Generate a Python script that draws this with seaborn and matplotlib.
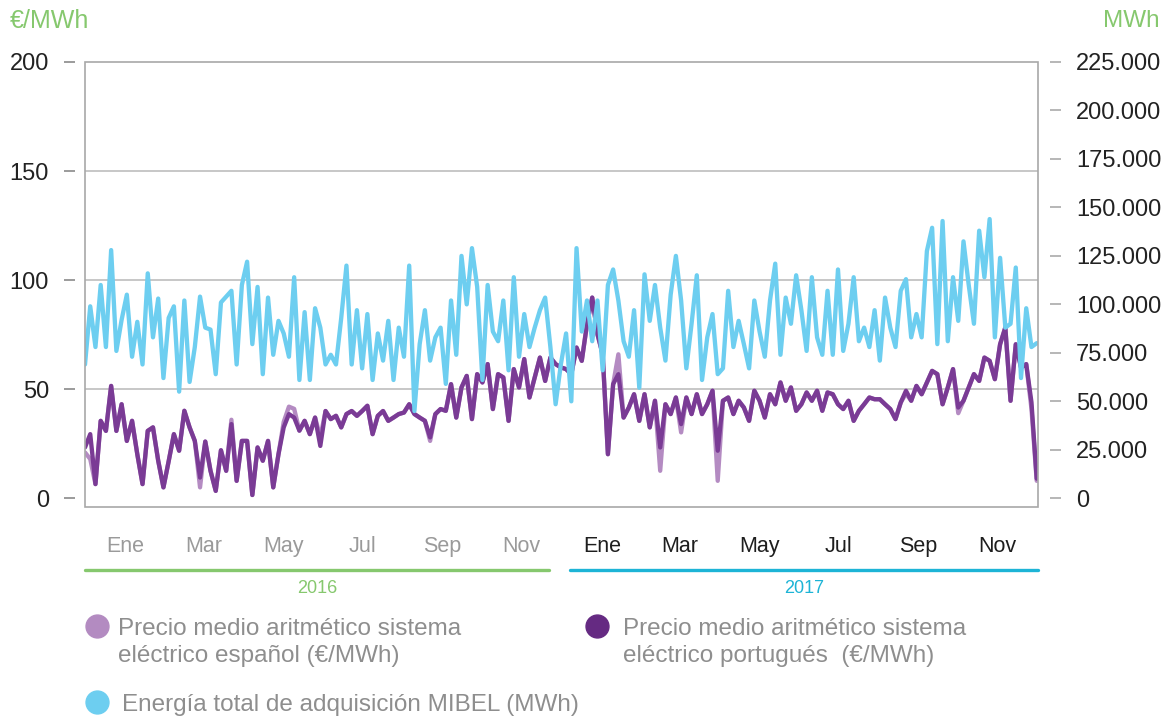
import numpy as np
import pandas as pd
import matplotlib
matplotlib.use("Agg")
import matplotlib.pyplot as plt
from matplotlib.lines import Line2D
from matplotlib.patches import Rectangle
from matplotlib.ticker import FuncFormatter
import seaborn as sns

# Precio medio diario (€/MWh), muestreado cada ~4 días, ene 2016 - dic 2017
precio_pt = [23.3, 29.4, 6.5, 35.5, 30.9, 51.5, 30.9, 43.1, 26.3, 35.5, 20.2, 6.5, 30.9, 32.5, 17.2, 5.0,
             17, 29.4, 21.8, 40.1, 32.5, 26.3, 9.5, 26, 12.6, 3.4, 22, 12.6, 34, 8, 26.3,
             26.3, 1.5, 23.3, 17.2, 26.3, 5.0, 20.2, 32.5, 38.6, 37, 31, 35.5, 29.4, 37, 24, 40,
             36.3, 37.8, 32.5, 38.6, 40, 37.8, 40, 42.4, 29.4, 37.8, 40, 35.5, 37, 38.6, 39.3,
             43.1, 38.6, 37, 35.5, 27.9, 38.6, 40.9, 40.1, 52.3, 37, 50.8, 56.1, 36.3, 56.9, 53.1,
             61.5, 40.9, 56.9, 55.4, 35.5, 59.2, 50.8, 63.8, 46.2, 55.4, 64.5, 53.8, 64.5, 61.5, 60,
             59.2, 56.9, 69.1, 63, 79.8, 92, 75.2, 66, 20.2, 52.3, 56.9, 37, 41.6, 47.7, 35.5,
             47.7, 32.5, 44.7, 23.3, 43.1, 38.6, 46.2, 34, 46.2, 38.6, 47.7, 38.6, 43.1, 49.3, 21.8,
             44.7, 46.2, 38.6, 44.7, 41.6, 35.5, 49.3, 44.7, 37, 47.7, 43.1, 53.1, 44.7, 50.8, 40.1,
             43.1, 48.5, 44.7, 49.3, 40.1, 48.5, 47.7, 43.1, 40.9, 44.7, 35.5, 40.1, 43.1, 46.2, 45.4,
             45.4, 43.1, 40.9, 36.3, 43.9, 49.3, 44.7, 51.5, 47.7, 53.1, 58.4, 56.9, 43.1, 50.8, 59.2,
             41.6, 44.7, 50.8, 56.9, 53.8, 64.5, 63, 54.6, 70.6, 78.3, 44.7, 70.6, 60, 61.5, 44, 9]

precio_es = [21, 18, 6.5, 35.5, 30.9, 51.5, 30.9, 43.1, 26.3, 35.5, 20.2, 6.5, 30.9, 32.5, 17.2, 5.0,
             17, 29.4, 21.8, 40.1, 32.5, 26.3, 5, 26, 12.6, 3.4, 22, 12.6, 36, 8, 26.3,
             26.3, 1.5, 23.3, 17.2, 26.3, 5.0, 20.2, 35, 42, 41, 31, 35.5, 29.4, 37, 28, 40,
             36.3, 37.8, 32.5, 38.6, 40, 37.8, 40, 42.4, 29.4, 37.8, 40, 35.5, 37, 38.6, 39.3,
             43.1, 38.6, 37, 35.5, 26.3, 38.6, 40.9, 40.1, 52.3, 37, 50.8, 56.1, 36.3, 56.9, 53.1,
             61.5, 40.9, 56.9, 55.4, 35.5, 59.2, 50.8, 63.8, 46.2, 55.4, 64.5, 53.8, 64.5, 61.5, 60,
             59.2, 56.9, 69.1, 63, 79.8, 92, 75.2, 66, 20.2, 52.3, 66, 37, 41.6, 47.7, 35.5,
             47.7, 32.5, 44.7, 12.6, 43.1, 38.6, 46.2, 30.2, 46.2, 38.6, 47.7, 38.6, 43.1, 49.3, 8,
             44.7, 46.2, 38.6, 44.7, 41.6, 35.5, 49.3, 44.7, 37, 47.7, 43.1, 53.1, 44.7, 50.8, 40.1,
             43.1, 48.5, 44.7, 49.3, 40.1, 48.5, 47.7, 43.1, 40.9, 44.7, 35.5, 40.1, 43.1, 46.2, 45.4,
             45.4, 43.1, 40.9, 36.3, 43.9, 48, 44.7, 51.5, 47.7, 53.1, 58.4, 56.9, 43.1, 50.8, 59.2,
             39, 44.7, 50.8, 56.9, 53.8, 64.5, 63, 54.6, 70.6, 78.3, 44.7, 70.6, 60, 61.5, 41, 8]

# Energía total de adquisición MIBEL (miles de MWh)
energia_k = [69, 99, 78, 110, 78, 128, 76, 92, 105, 73, 91, 69, 116, 83, 103, 62,
             93, 99, 55, 102, 60, 78, 104, 88, 87, 64, 101, 104, 107, 69, 110,
             122, 79.5, 109, 64, 103.5, 74, 91.5, 85, 73, 114, 61, 96, 61, 98, 88, 69,
             74, 69, 93, 120, 69, 97, 67, 95, 61, 85, 71, 91.5, 61, 88, 73,
             120, 45, 79.5, 97, 71, 83, 88, 59, 102, 74, 125, 100, 129, 109, 61,
             110, 86, 81, 102, 66, 114, 73, 95, 78, 88, 97, 103.5, 78, 48.5, 69,
             85, 50, 129, 86, 102, 81, 102, 66, 110, 118, 102, 81, 73, 97, 57,
             115.5, 91.5, 110, 88, 71, 105, 125, 102, 67, 90, 115, 61, 83, 95, 64,
             67, 107, 78, 91.5, 79.5, 67, 102, 86, 73, 102, 121, 74, 103.5, 90, 115,
             97, 76, 114, 83, 74, 107, 74, 118, 76, 90, 114, 81, 88, 78, 97,
             71, 103.5, 88, 78, 107, 113, 83, 95, 83, 127.5, 139.5, 79.5, 143, 81, 114,
             91.5, 132.5, 110, 90, 138, 114, 144, 83, 124, 88, 90, 119, 62, 98, 78, 80]

meses = ["Ene", "Mar", "May", "Jul", "Sep", "Nov"]
anios = ["2016", "2017"]
leyenda = ["Precio medio aritmético sistema\neléctrico español (€/MWh)",
           "Precio medio aritmético sistema\neléctrico portugués  (€/MWh)",
           "Energía total de adquisición MIBEL (MWh)"]

fechas = pd.date_range("2016-01-01", "2017-12-31", periods=len(precio_pt))
df = pd.DataFrame({"fecha": fechas, "es": precio_es, "pt": precio_pt,
                   "energia": np.array(energia_k) * 1000})

C_ES = "#b48bc2"
C_PT = "#7a3b95"
C_EN = "#6dcef0"
VERDE = "#86c86e"
CIAN = "#1db4d6"
GRIS = "#8e8e8e"

sns.set_style("white")
plt.rcParams["font.family"] = ["Liberation Sans", "DejaVu Sans"]

fig = plt.figure(figsize=(11.71, 7.2), dpi=100)
ax = fig.add_axes([85 / 1171, 1 - 507 / 720, 953 / 1171, 445 / 720])
ax2 = ax.twinx()

sns.lineplot(data=df, x="fecha", y="es", ax=ax, color=C_ES, linewidth=3.1)
sns.lineplot(data=df, x="fecha", y="pt", ax=ax, color=C_PT, linewidth=3.1)
sns.lineplot(data=df, x="fecha", y="energia", ax=ax2, color=C_EN, linewidth=3.1)

for a in (ax, ax2):
    for s in a.spines.values():
        s.set_visible(False)
    a.set_xlabel("")
    a.set_ylabel("")
ax.spines["left"].set_position(("outward", 7))
ax.spines["bottom"].set_position(("outward", 10))
ax2.spines["right"].set_position(("outward", 8.5))

# eje izquierdo
ax.set_ylim(-4, 200)
ax.set_yticks([0, 50, 100, 150, 200])
for v in ax.get_yticks()[1:-1]:
    ax.axhline(v, color="#bdbdbd", lw=1.2, zorder=0)
ax.tick_params(axis="y", length=8, width=1.2, color="#8a8a8a", pad=11, labelsize=17,
               labelcolor="#222222")

# eje derecho
ax2.set_ylim(-4500, 225000)
ax2.set_yticks(np.arange(0, 225001, 25000))
ax2.yaxis.set_major_formatter(FuncFormatter(lambda v, p: f"{v:,.0f}".replace(",", ".")))
ax2.tick_params(axis="y", length=8, width=1.2, color="#aaaaaa", pad=11, labelsize=17,
                labelcolor="#222222")

# eje x: marcas cada dos meses, etiquetas centradas
inicio, fin = pd.Timestamp("2016-01-01"), pd.Timestamp("2018-01-01")
ax.set_xlim(inicio, fin)
ax.set_xticks(pd.date_range(inicio, fin, freq="2MS"))
ax.set_xticklabels([])
centros = pd.date_range("2016-02-01", "2017-12-01", freq="2MS")
ax.set_xticks(centros, meses * len(anios), minor=True)
ax.tick_params(axis="x", which="major", length=8.6, width=1.2, color="#9a9a9a")
ax.tick_params(axis="x", which="minor", length=0, pad=11, labelsize=15.5)
for lab, f in zip(ax.get_xticklabels(minor=True), centros):
    lab.set_color("#9a9a9a" if f.year == 2016 else "#1e1e1e")

# marco del gráfico
fig.add_artist(Rectangle((0, 0), 1, 1, transform=ax.transAxes, fill=False,
                         ec="#a8a8a8", lw=1.2))

# barras de año bajo el eje
trans = ax.get_xaxis_transform()
tramos = [(pd.Timestamp("2016-01-01"), pd.Timestamp("2016-12-22"), VERDE),
          (pd.Timestamp("2017-01-07"), pd.Timestamp("2018-01-01"), CIAN)]
for anio, (a0, a1, col) in zip(anios, tramos):
    ax.plot([a0, a1], [-0.1416, -0.1416], transform=trans, clip_on=False, color=col, lw=2.4)
    ax.text(a0 + (a1 - a0) / 2, -0.183, anio, transform=trans, ha="center", va="center",
            color=col, fontsize=13)
ax.set_xlim(inicio, fin)
ax.set_ylim(-4, 200)

# unidades
fig.text(10 / 1171, 1 - 21 / 720, "€/MWh", color=VERDE, fontsize=18, va="center", ha="left")
fig.text(1160 / 1171, 1 - 21 / 720, "MWh", color=VERDE, fontsize=17.5, va="center", ha="right")

# leyenda
items = [(97, 626, 118, "#b38bc1", leyenda[0]),
         (597, 626, 623, "#652a82", leyenda[1]),
         (97, 702, 122, "#6dcef0", leyenda[2])]
for cx, cy, tx, col, txt in items:
    fig.add_artist(Line2D([cx / 1171], [1 - cy / 720], marker="o", markersize=16.5,
                          color=col, transform=fig.transFigure))
    fig.text(tx / 1171, 1 - (cy - 8) / 720, txt, color=GRIS, fontsize=17.5,
             va="top", ha="left", linespacing=1.32)

fig.savefig("out.png", dpi=100)
